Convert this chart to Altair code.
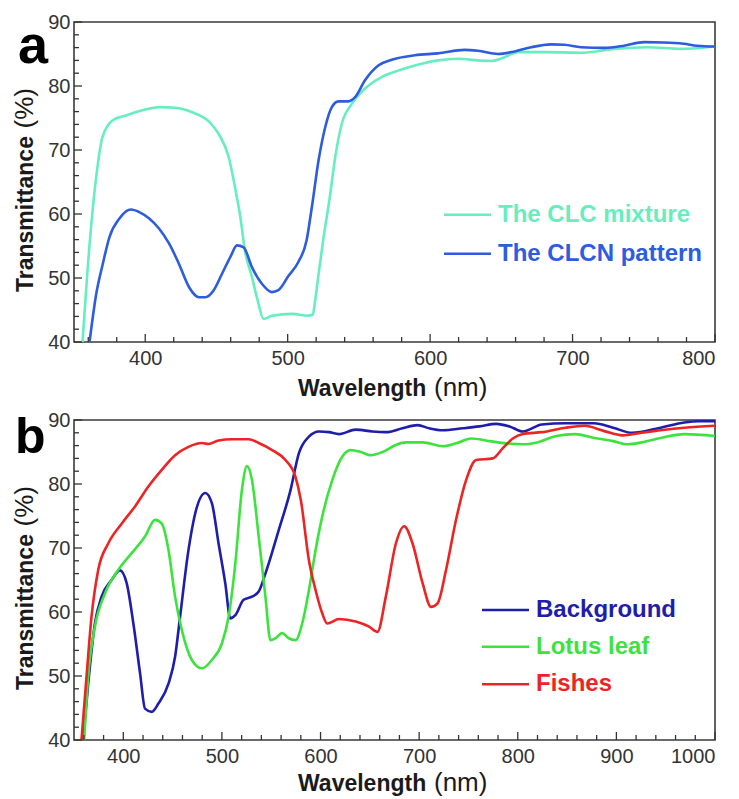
import altair as alt
import pandas as pd

# ---------------- data ----------------
series_a = ["The CLC mixture", "The CLCN pattern"]
colors_a = ["#66EEC0", "#2D5CDE"]

clc_wl = [356, 361, 365.6, 370, 377, 386.5, 398, 410, 421, 433, 445, 451.6, 458.6, 463, 466.8, 470, 475,
          479.5, 483, 489, 503, 514, 517.7, 519, 521.4, 525, 529.5, 533.4, 538, 545, 554.3, 566, 577.6,
          589.3, 605.6, 619.6, 633.6, 642.9, 652.3, 661.5, 682.5, 705.9, 729.2, 752.4, 775.7, 787.4, 800]
clc_t = [40, 55.4, 65.8, 72.0, 74.6, 75.4, 76.2, 76.7, 76.6, 75.9, 74.4, 72.5, 68.9, 64.2, 59.5, 54.3, 50.1,
         46.0, 43.6, 44.1, 44.4, 44.1, 44.3, 46.0, 50.1, 56.0, 62.5, 68.9, 74.1, 77.2, 79.6, 81.4, 82.4,
         83.2, 84.0, 84.25, 84.0, 83.9, 84.5, 85.3, 85.3, 85.2, 85.8, 86.06, 85.8, 85.9, 86.17]

clcn_wl = [360.9, 365.6, 370.2, 374.9, 381.9, 390, 395.8, 402.8, 409.8, 416.7, 423.7, 430.7, 437.7, 442.3,
           448.1, 454, 459.8, 464.4, 469.1, 474.9, 481.9, 488.9, 493.5, 500.5, 507.5, 513.3, 517, 521.7,
           526.4, 531, 535.7, 542.7, 547.3, 554.3, 563.6, 573, 589.3, 605.6, 624.3, 633.6, 647.6, 659.3,
           671, 685, 694.2, 705.9, 722.2, 736.2, 750.2, 764.1, 778.1, 787.4, 800]
clcn_t = [40, 47.5, 52.2, 56.4, 59.3, 60.7, 60.3, 59.3, 57.7, 55.4, 52.2, 48.6, 47.0, 47.0,
          48.1, 50.7, 53.3, 55.1, 54.8, 51.7, 49.1, 47.8, 48.1, 50.3, 52.5, 55.9, 61.1, 68.4,
          73.6, 76.7, 77.6, 77.6, 78.25, 80.9, 83.2, 84.1, 84.8, 85.1, 85.65, 85.5, 85.0, 85.4,
          86.06, 86.5, 86.45, 86.06, 85.96, 86.3, 86.85, 86.8, 86.6, 86.3, 86.17]

series_b = ["Background", "Lotus leaf", "Fishes"]
colors_b = ["#1E1EAA", "#3DE33D", "#EC2424"]

bg_wl = [359.3, 364.4, 371.2, 378, 388.1, 396.6, 403.4, 410.2, 417, 422, 428.8, 435.6, 445.8, 452.5, 457.6,
         466.1, 472.9, 483.1, 489.8, 496.6, 503.4, 508.5, 513.6, 522, 530.5, 537.3, 544.1, 557.6, 569.5,
         578, 588.2, 598.4, 608.5, 618.7, 635.7, 652.6, 666.2, 683.1, 698.4, 710.3, 723.8, 744.2, 761.2,
         778.1, 791.7, 805.2, 824.4, 848.5, 877.4, 896.7, 915.9, 944.8, 968.8, 983.3, 1000]
bg_t = [40, 48.8, 58.2, 62.4, 65.0, 66.5, 64.5, 58.2, 50.4, 44.9, 44.4, 45.7, 48.8, 53.0, 59.3,
        69.7, 75.4, 78.6, 77.0, 70.7, 64.5, 59.0, 59.5, 61.9, 62.4, 63.2, 66.0, 72.8, 79.0,
        84.8, 87.4, 88.2, 88.1, 87.8, 88.5, 88.2, 88.1, 88.7, 89.2, 88.7, 88.4, 88.7, 89.0,
        89.4, 89.0, 88.2, 89.3, 89.5, 89.5, 88.8, 88.0, 88.8, 89.6, 89.8, 89.8]

lotus_wl = [360.3, 364.4, 371.2, 381.4, 395, 408.5, 422, 432.2, 439, 445.8, 452.5, 459.3, 469.5, 479.7,
            489.8, 500, 506.8, 513.6, 520.3, 525.4, 530.5, 537.3, 544.1, 549.2, 554.2, 561, 567.8, 574.6,
            581.4, 588.2, 595, 601.7, 611.9, 622.1, 630.6, 640.8, 651, 662.8, 676.4, 686.6, 703.5, 723.8,
            737.4, 752.7, 771.3, 788.3, 805.2, 819.6, 838.9, 858.1, 877.4, 896.7, 911, 925.5, 944.8,
            968.8, 1000]
lotus_t = [40, 49.9, 57.7, 62.9, 66.6, 69.2, 71.8, 74.4, 73.8, 69.7, 62.4, 57.2, 52.5, 51.2,
           52.5, 55.1, 59.3, 67.6, 79.1, 82.8, 80.6, 71.8, 62.4, 55.6, 55.9, 56.7, 55.9, 55.6,
           58.2, 63.4, 69.7, 74.9, 80.6, 84.3, 85.3, 85.0, 84.5, 85.0, 86.1, 86.5, 86.5, 85.9,
           86.35, 87.1, 86.7, 86.35, 86.2, 86.5, 87.5, 87.8, 87.2, 86.7, 86.2, 86.5, 87.2,
           87.8, 87.5]

fish_wl = [357.6, 362.7, 367.8, 374.6, 384.7, 398.3, 411.9, 425.4, 439, 452.5, 466.1, 479.7, 486.4, 496.6,
           510.2, 527.1, 537.3, 550.9, 564.4, 574.6, 580, 588.2, 595, 601.7, 606.8, 618.7, 635.7, 649.2,
           657.7, 666.2, 676.4, 684.8, 693.3, 703.5, 712, 718.7, 727.3, 737.4, 747.6, 757.8, 774.7, 784.9,
           795, 805.2, 824.4, 848.5, 867.8, 887, 906.3, 925.5, 944.8, 968.8, 1000]
fish_t = [40, 49.9, 59.3, 66.6, 70.7, 73.8, 76.5, 79.6, 82.2, 84.5, 85.8, 86.4, 86.25, 86.8,
          87.0, 87.0, 86.4, 85.3, 83.75, 81.1, 77.5, 68.1, 63.4, 59.8, 58.2, 58.9, 58.5, 57.7,
          56.9, 62.4, 70.7, 73.4, 70.7, 64.5, 60.8, 61.35, 66.6, 74.4, 80.6, 83.75, 84.0, 85.6,
          87.1, 87.8, 88.1, 88.8, 89.1, 88.3, 87.6, 88.0, 88.4, 88.8, 89.1]

x_labels_a = [400, 500, 600, 700, 800]
x_labels_b = [400, 500, 600, 700, 800, 900, 1000]
y_labels = [40, 50, 60, 70, 80, 90]
x_minor_a = list(range(360, 801, 20))
x_minor_b = list(range(360, 1001, 20))
y_minor = list(range(42, 90, 2))

# axis titles: bold word + regular unit, as in the original figure
x_title = ["Wavelength", "(nm)"]
y_title = ["Transmittance", "(%)"]

# ---------------- styling ----------------
W, H = 641, 320
FONT = "Liberation Sans, Arial, sans-serif"


def frame(d):
    return pd.DataFrame(d)


def txt(s, **kw):
    return alt.Chart(frame({"t": [s]})).mark_text(font=FONT, **kw)


def panel(names, colors, wls, ts, xdom, xlabels, xminor, letter, letter_size, letter_dx, letter_y,
          leg_x0, leg_x1, leg_text_x, leg_ys, xt_base):
    rows = []
    for name, wl, t in zip(names, wls, ts):
        for w, v in zip(wl, t):
            rows.append({"series": name, "wl": w, "T": v})
    df = pd.DataFrame(rows)
    xs = alt.Scale(domain=xdom, nice=False, zero=False)
    ys = alt.Scale(domain=[40, 90], nice=False, zero=False)
    xaxis = alt.Axis(values=xlabels, title=None, format="d", ticks=False, domain=False,
                     grid=False, labelPadding=6)
    yaxis = alt.Axis(values=y_labels, title=None, ticks=False, domain=False,
                     grid=False, labelPadding=4)

    lines = alt.Chart(df).mark_line(strokeWidth=2.6, interpolate="monotone", clip=True).encode(
        x=alt.X("wl:Q", scale=xs, axis=xaxis),
        y=alt.Y("T:Q", scale=ys, axis=yaxis),
        color=alt.Color("series:N", scale=alt.Scale(domain=names, range=colors), legend=None),
        detail="series:N",
    )

    layers = [lines]
    # inward ticks on the bottom axis
    major_x = frame({"wl": xlabels})
    minor_x = frame({"wl": [v for v in xminor if v not in xlabels]})
    layers.append(alt.Chart(major_x).mark_rule(color="#333", strokeWidth=1.3).encode(
        x=alt.X("wl:Q", scale=xs, axis=xaxis), y=alt.value(H), y2=alt.value(H - 8)))
    layers.append(alt.Chart(minor_x).mark_rule(color="#333", strokeWidth=1.3).encode(
        x=alt.X("wl:Q", scale=xs, axis=xaxis), y=alt.value(H), y2=alt.value(H - 5)))
    # inward ticks on the left axis
    major_y = frame({"T": y_labels})
    minor_y = frame({"T": [v for v in y_minor if v not in y_labels]})
    layers.append(alt.Chart(major_y).mark_rule(color="#333", strokeWidth=1.3).encode(
        y=alt.Y("T:Q", scale=ys, axis=yaxis), x=alt.value(0), x2=alt.value(8)))
    layers.append(alt.Chart(minor_y).mark_rule(color="#333", strokeWidth=1.3).encode(
        y=alt.Y("T:Q", scale=ys, axis=yaxis), x=alt.value(0), x2=alt.value(5)))

    # legend drawn by hand
    for name, col, ly in zip(names, colors, leg_ys):
        ld = frame({"t": [name]})
        layers.append(alt.Chart(ld).mark_rule(color=col, strokeWidth=2.6).encode(
            x=alt.value(leg_x0), x2=alt.value(leg_x1), y=alt.value(ly)))
        layers.append(alt.Chart(ld).mark_text(color=col, font=FONT, fontSize=24, fontWeight="bold",
                                              align="left", baseline="middle").encode(
            text="t:N", x=alt.value(leg_text_x), y=alt.value(ly)))

    # axis titles (bold word + regular unit)
    layers.append(txt(x_title[0], fontSize=23, fontWeight="bold", color="#1a1a1a", align="left",
                      baseline="alphabetic").encode(text="t:N", x=alt.value(224), y=alt.value(xt_base)))
    layers.append(txt(x_title[1], fontSize=26, fontWeight="normal", color="#1a1a1a", align="left",
                      baseline="alphabetic").encode(text="t:N", x=alt.value(360), y=alt.value(xt_base)))
    layers.append(txt(y_title[0], fontSize=23, fontWeight="bold", color="#1a1a1a", align="left",
                      baseline="alphabetic", angle=270).encode(text="t:N", x=alt.value(-41),
                                                                y=alt.value(270)))
    layers.append(txt(y_title[1], fontSize=26, fontWeight="normal", color="#1a1a1a", align="left",
                      baseline="alphabetic", angle=270).encode(text="t:N", x=alt.value(-41),
                                                                y=alt.value(106.5)))

    # panel letter
    layers.append(txt(letter, fontSize=letter_size, fontWeight="bold", color="#000", align="left",
                      baseline="alphabetic").encode(text="t:N", x=alt.value(letter_dx),
                                                    y=alt.value(letter_y)))

    return alt.layer(*layers).properties(width=W, height=H)


pa = panel(series_a, colors_a, [clc_wl, clcn_wl], [clc_t, clcn_t], [350, 800], x_labels_a, x_minor_a,
           "a", 54, -56, 40.5, 370, 417, 424, [192.8, 231.8], 373.5)
pb = panel(series_b, colors_b, [bg_wl, lotus_wl, fish_wl], [bg_t, lotus_t, fish_t], [350, 1000],
           x_labels_b, x_minor_b, "b", 50, -59, 33, 408, 455, 462, [190, 226.7, 264.3], 371)

chart = alt.vconcat(pa, pb, spacing=7).resolve_scale(color="independent").properties(
    padding={"left": 11, "top": 11, "right": 5, "bottom": 0},
    background="white",
).configure_view(stroke="#3a3a3a", strokeWidth=1.6).configure_axis(
    labelFont=FONT, labelFontSize=20, labelColor="#333",
)

chart.save("out.html", embed_options={"renderer": "svg", "actions": False})
